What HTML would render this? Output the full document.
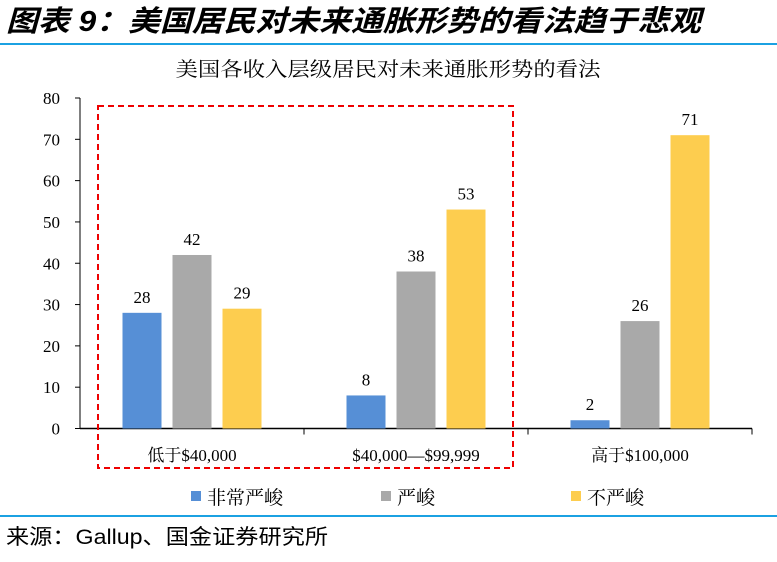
<!DOCTYPE html>
<html><head><meta charset="utf-8"><style>
body{margin:0;width:777px;height:557px;background:#fff;overflow:hidden;font-family:"Liberation Serif","Noto Serif CJK SC",serif}
</style></head><body>
<svg width="777" height="557">
<text x="6" y="31" font-size="29" font-weight="bold" font-style="italic" font-family="Liberation Sans,Noto Sans CJK SC,sans-serif" textLength="695" lengthAdjust="spacingAndGlyphs">图表 9：美国居民对未来通胀形势的看法趋于悲观</text>
<line x1="0" y1="44" x2="777" y2="44" stroke="#1ba1e2" stroke-width="2"/>
<text x="388" y="76" font-size="20" text-anchor="middle" textLength="425" lengthAdjust="spacingAndGlyphs">美国各收入层级居民对未来通胀形势的看法</text>
<g id="plot"></g>
<rect x="98" y="106" width="415" height="362" fill="none" stroke="#e00" stroke-width="2" stroke-dasharray="6,4"/>
<g id="legend"></g>
<line x1="0" y1="516" x2="777" y2="516" stroke="#1ba1e2" stroke-width="2"/>
<text x="6" y="544" font-size="21" font-family="Liberation Sans,Noto Sans CJK SC,sans-serif" textLength="322" lengthAdjust="spacingAndGlyphs">来源：Gallup、国金证券研究所</text>
</svg>
<script>
const categories=["低于$40,000","$40,000—$99,999","高于$100,000"];
const seriesNames=["非常严峻","严峻","不严峻"];
const veryDire=[28,8,2];
const dire=[42,38,26];
const notDire=[29,53,71];
const yTicks=[0,10,20,30,40,50,60,70,80];
const colors=["#568fd6","#a9a9a9","#fdcd4f"];
const NS="http://www.w3.org/2000/svg";
const g=document.getElementById('plot');
const x0=80,x1=752,yB=428.5,yT=98;
const y=v=>yB-(v/80)*(yB-yT);
const cw=(x1-x0)/categories.length;
function mk(t,a,p){const e=document.createElementNS(NS,t);for(const k in a)e.setAttribute(k,a[k]);(p||g).appendChild(e);return e;}
mk('line',{x1:x0,y1:yT,x2:x0,y2:yB,stroke:'#000','stroke-width':1});
yTicks.forEach(v=>{
 mk('line',{x1:x0-5,y1:y(v),x2:x0,y2:y(v),stroke:'#000'});
 const t=mk('text',{x:60,y:y(v)+6,'font-size':17,'text-anchor':'end'});t.textContent=v;
 
 
});
mk('line',{x1:x0,y1:yB,x2:x1,y2:yB,stroke:'#000','stroke-width':1.5});
const series=[veryDire,dire,notDire];
categories.forEach((c,i)=>{
 const cx=x0+cw*(i+0.5);
 mk('line',{x1:x0+cw*(i+1),y1:yB,x2:x0+cw*(i+1),y2:yB+6,stroke:'#000'});
 const t=mk('text',{x:cx,y:461,'font-size':17,'text-anchor':'middle'});t.textContent=c;
 
 
 series.forEach((s,j)=>{
  const bx=cx-19.5+(j-1)*50;
  const r=mk('rect',{x:bx,y:y(s[i]),width:39,height:yB-y(s[i]),fill:colors[j]});
  
  
  const l=mk('text',{x:bx+19.5,y:y(s[i])-10,'font-size':17,'text-anchor':'middle'});l.textContent=s[i];
  
  
 });
});
const lg=document.getElementById('legend');
const lx=[191,381,571];
seriesNames.forEach((n,j)=>{
 const r=mk('rect',{x:lx[j],y:491,width:10,height:10,fill:colors[j]},lg);
 
 
 const t=mk('text',{x:lx[j]+16,y:504,'font-size':19},lg);t.textContent=n;
 
 
});
</script>
</body></html>
